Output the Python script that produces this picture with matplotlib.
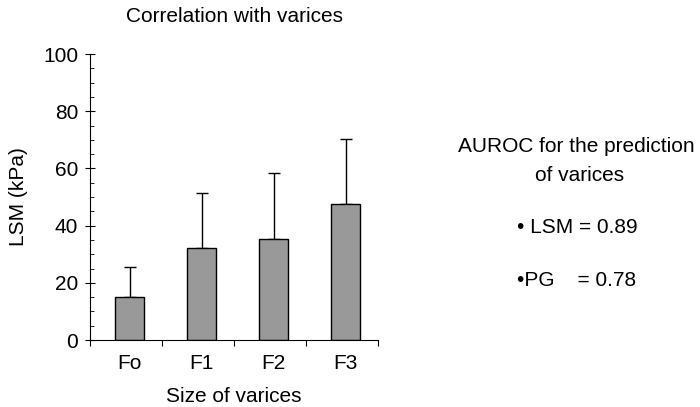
import matplotlib
matplotlib.use('Agg')
import matplotlib.pyplot as plt
import numpy as np

plt.rcParams['font.family'] = ['Liberation Sans', 'DejaVu Sans']

#dados
grupos = ['Fo', 'F1', 'F2', 'F3']
lsm_media = [15.2, 32.3, 35.2, 47.4]
lsm_dp = [10.2, 19.1, 23.3, 22.9]

fs = 15

fig = plt.figure(figsize=(7, 4.07), dpi=100)
ax = fig.add_axes([0.1286, 0.1646, 0.4114, 0.7027])

x = np.arange(len(grupos))
ax.bar(x, lsm_media, width=0.4, color='#999999', edgecolor='black', linewidth=1, zorder=2)
ax.errorbar(x, lsm_media, yerr=[np.zeros(len(grupos)), lsm_dp], fmt='none',
            ecolor='black', elinewidth=1, capsize=4.5, capthick=1, zorder=1)

#eixos
ax.set_xlim(-0.55, 3.45)
ax.set_ylim(0, 100)
ax.spines['top'].set_visible(False)
ax.spines['right'].set_visible(False)
ax.set_yticks(np.arange(0, 101, 20))
ax.set_yticks(np.arange(0, 101, 5), minor=True)
ax.set_xticks(np.arange(-0.55, 3.5, 1.0))
ax.set_xticklabels([])
ax.set_xticks(x, minor=True)
ax.set_xticklabels(grupos, minor=True)
ax.tick_params(axis='x', which='minor', length=0, pad=10, labelsize=fs)
ax.tick_params(axis='x', which='major', length=4, direction='out')
ax.tick_params(axis='y', which='major', length=7, direction='inout', pad=5, labelsize=fs)
ax.tick_params(axis='y', which='minor', length=3, direction='in')

ax.set_title('Correlation with varices', fontsize=fs, pad=23)
ax.set_xlabel('Size of varices', fontsize=fs, labelpad=10)
ax.set_ylabel('LSM (kPa)', fontsize=fs, labelpad=11)

#texto AUROC
fig.text(0.823, 0.641, 'AUROC for the prediction', ha='center', va='center', fontsize=fs)
fig.text(0.828, 0.570, 'of varices', ha='center', va='center', fontsize=fs)
fig.text(0.739, 0.440, '\u2022 LSM = 0.89', ha='left', va='center', fontsize=fs)
fig.text(0.739, 0.312, '\u2022PG    = 0.78', ha='left', va='center', fontsize=fs)

plt.savefig('out.png', dpi=100)
